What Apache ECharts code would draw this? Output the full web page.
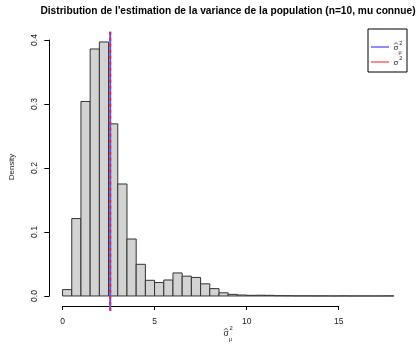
<!DOCTYPE html>
<html>
<head>
<meta charset="utf-8">
<script src="https://cdn.jsdelivr.net/npm/echarts@6/dist/echarts.min.js"></script>
<style>
  html, body { margin: 0; padding: 0; background: #fff; }
  #chart { width: 417px; height: 346px; }
</style>
</head>
<body>
<div id="chart"></div>
<script>
// Histogram breaks (bin width 0.5, from 0 to 18)
const binStart = 0;
const binWidth = 0.5;
const densities = [
  0.010, 0.121, 0.304, 0.386, 0.397, 0.269, 0.175, 0.089, 0.0495, 0.0245,
  0.021, 0.025, 0.036, 0.031, 0.029, 0.019, 0.0115, 0.005, 0.0025, 0.0015,
  0.001, 0.0012, 0.001, 0.0005, 0.0004, 0.0002, 0.0002, 0.0001, 0.0001, 0,
  0.0001, 0, 0, 0, 0, 0.0001
];
// Mean of the estimates and the true variance
const meanEstimate = 2.59;
const trueVariance = 2.59;
// Axis ticks
const xTicks = [0, 5, 10, 15];
const yTicks = [0.0, 0.1, 0.2, 0.3, 0.4];
const titleText = "Distribution de l'estimation de la variance de la population (n=10, mu connue)";

const bins = densities.map((d, i) => [binStart + i * binWidth, binStart + (i + 1) * binWidth, d]);

const xMin = -0.72, xMax = 18.72;
const yMin = -0.023, yMax = 0.413;

const font = 'Liberation Sans, Arial, sans-serif';
const chart = echarts.init(document.getElementById('chart'), null, { renderer: 'canvas' });

const plotLeft = 49.3, plotRight = 417 - 407.1;

// sigma with a hat, superscript 2 and optional subscript
function sigmaSymbol(x, y, size, withHat, sub) {
  const small = size * 0.68;
  const kids = [
    { type: 'text', x: 0, y: 0, style: { text: 'σ', fontFamily: font, fontSize: size, fill: '#222', align: 'center', verticalAlign: 'middle' } },
    { type: 'text', x: size * 0.42, y: -size * 0.6, style: { text: '2', fontFamily: font, fontSize: small, fill: '#222', align: 'left', verticalAlign: 'middle' } }
  ];
  if (withHat) {
    kids.push({ type: 'polyline', shape: { points: [[-size * 0.22, -size * 0.45], [0, -size * 0.68], [size * 0.22, -size * 0.45]] }, style: { stroke: '#222', lineWidth: 0.8, fill: null } });
  }
  if (sub) {
    kids.push({ type: 'text', x: size * 0.32, y: size * 0.6, style: { text: sub, fontFamily: font, fontSize: small, fill: '#222', align: 'left', verticalAlign: 'middle' } });
  }
  return { type: 'group', x: x, y: y, children: kids };
}

chart.setOption({
  animation: false,
  backgroundColor: '#ffffff',
  grid: [
    // data region
    { left: plotLeft, right: plotRight, top: 31.7, bottom: 346 - 310.7 },
    // x axis drawn from 0 to 15
    { left: 62.7, right: 417 - 338.7, top: 31.7, bottom: 346 - 306 },
    // y axis drawn from 0 to 0.4
    { left: plotLeft, right: 417 - 60, top: 40, bottom: 346 - 296 }
  ],
  xAxis: [
    { gridIndex: 0, type: 'value', min: xMin, max: xMax, show: false },
    {
      gridIndex: 1, type: 'value', min: xTicks[0], max: xTicks[xTicks.length - 1], interval: 5,
      axisLine: { show: true, lineStyle: { color: '#000', width: 1 } },
      axisTick: { show: true, length: 4, lineStyle: { color: '#000' } },
      axisLabel: { fontFamily: font, fontSize: 8.5, color: '#222', margin: 11 },
      splitLine: { show: false }
    },
    { gridIndex: 2, type: 'value', min: 0, max: 1, show: false }
  ],
  yAxis: [
    { gridIndex: 0, type: 'value', min: yMin, max: yMax, show: false },
    { gridIndex: 1, type: 'value', min: 0, max: 1, show: false },
    {
      gridIndex: 2, type: 'value', min: yTicks[0], max: yTicks[yTicks.length - 1], interval: 0.1,
      axisLine: { show: true, lineStyle: { color: '#000', width: 1 } },
      axisTick: { show: true, length: 5, lineStyle: { color: '#000' } },
      axisLabel: {
        fontFamily: font, fontSize: 8.5, color: '#222', rotate: 90, margin: 10,
        formatter: v => v.toFixed(1)
      },
      splitLine: { show: false }
    }
  ],
  series: [
    {
      type: 'custom',
      xAxisIndex: 0, yAxisIndex: 0,
      data: bins,
      renderItem: (params, api) => {
        const top = api.coord([api.value(0), api.value(2)]);
        const bottom = api.coord([api.value(1), 0]);
        return {
          type: 'rect',
          shape: { x: top[0], y: top[1], width: bottom[0] - top[0], height: bottom[1] - top[1] },
          style: { fill: '#d3d3d3', stroke: '#333', lineWidth: 1 }
        };
      }
    },
    {
      type: 'line', xAxisIndex: 0, yAxisIndex: 0, symbol: 'none',
      data: [[meanEstimate, yMin], [meanEstimate, yMax]],
      lineStyle: { color: '#5555ff', width: 2, type: 'solid' }
    },
    {
      type: 'line', xAxisIndex: 0, yAxisIndex: 0, symbol: 'none',
      data: [[trueVariance, yMin], [trueVariance, yMax]],
      lineStyle: { color: '#e8244a', width: 2, type: [3, 3] }
    }
  ],
  graphic: [
    // main title
    {
      type: 'text', x: 228, y: 11,
      style: { text: titleText, fontFamily: font, fontSize: 10.2, fontWeight: 'bold', fill: '#000', align: 'center', verticalAlign: 'middle' }
    },
    // y axis title
    {
      type: 'text', x: 12, y: 167, rotation: Math.PI / 2,
      style: { text: 'Density', fontFamily: font, fontSize: 8, fill: '#222', align: 'center', verticalAlign: 'middle' }
    },
    // x axis title
    sigmaSymbol(226, 334, 8.5, true, 'μ'),
    // legend box
    {
      type: 'group', x: 368, y: 29,
      children: [
        { type: 'rect', shape: { x: 0, y: 0, width: 39, height: 43 }, style: { fill: '#fff', stroke: '#000', lineWidth: 1 } },
        { type: 'line', shape: { x1: 3, y1: 18, x2: 21, y2: 18 }, style: { stroke: '#6666ff', lineWidth: 1.5 } },
        { type: 'line', shape: { x1: 3, y1: 33, x2: 21, y2: 33 }, style: { stroke: '#ff6060', lineWidth: 1.5 } }
      ]
    },
    sigmaSymbol(396, 48, 8, true, 'μ'),
    sigmaSymbol(396, 63, 8, false, null)
  ]
});
</script>
</body>
</html>
